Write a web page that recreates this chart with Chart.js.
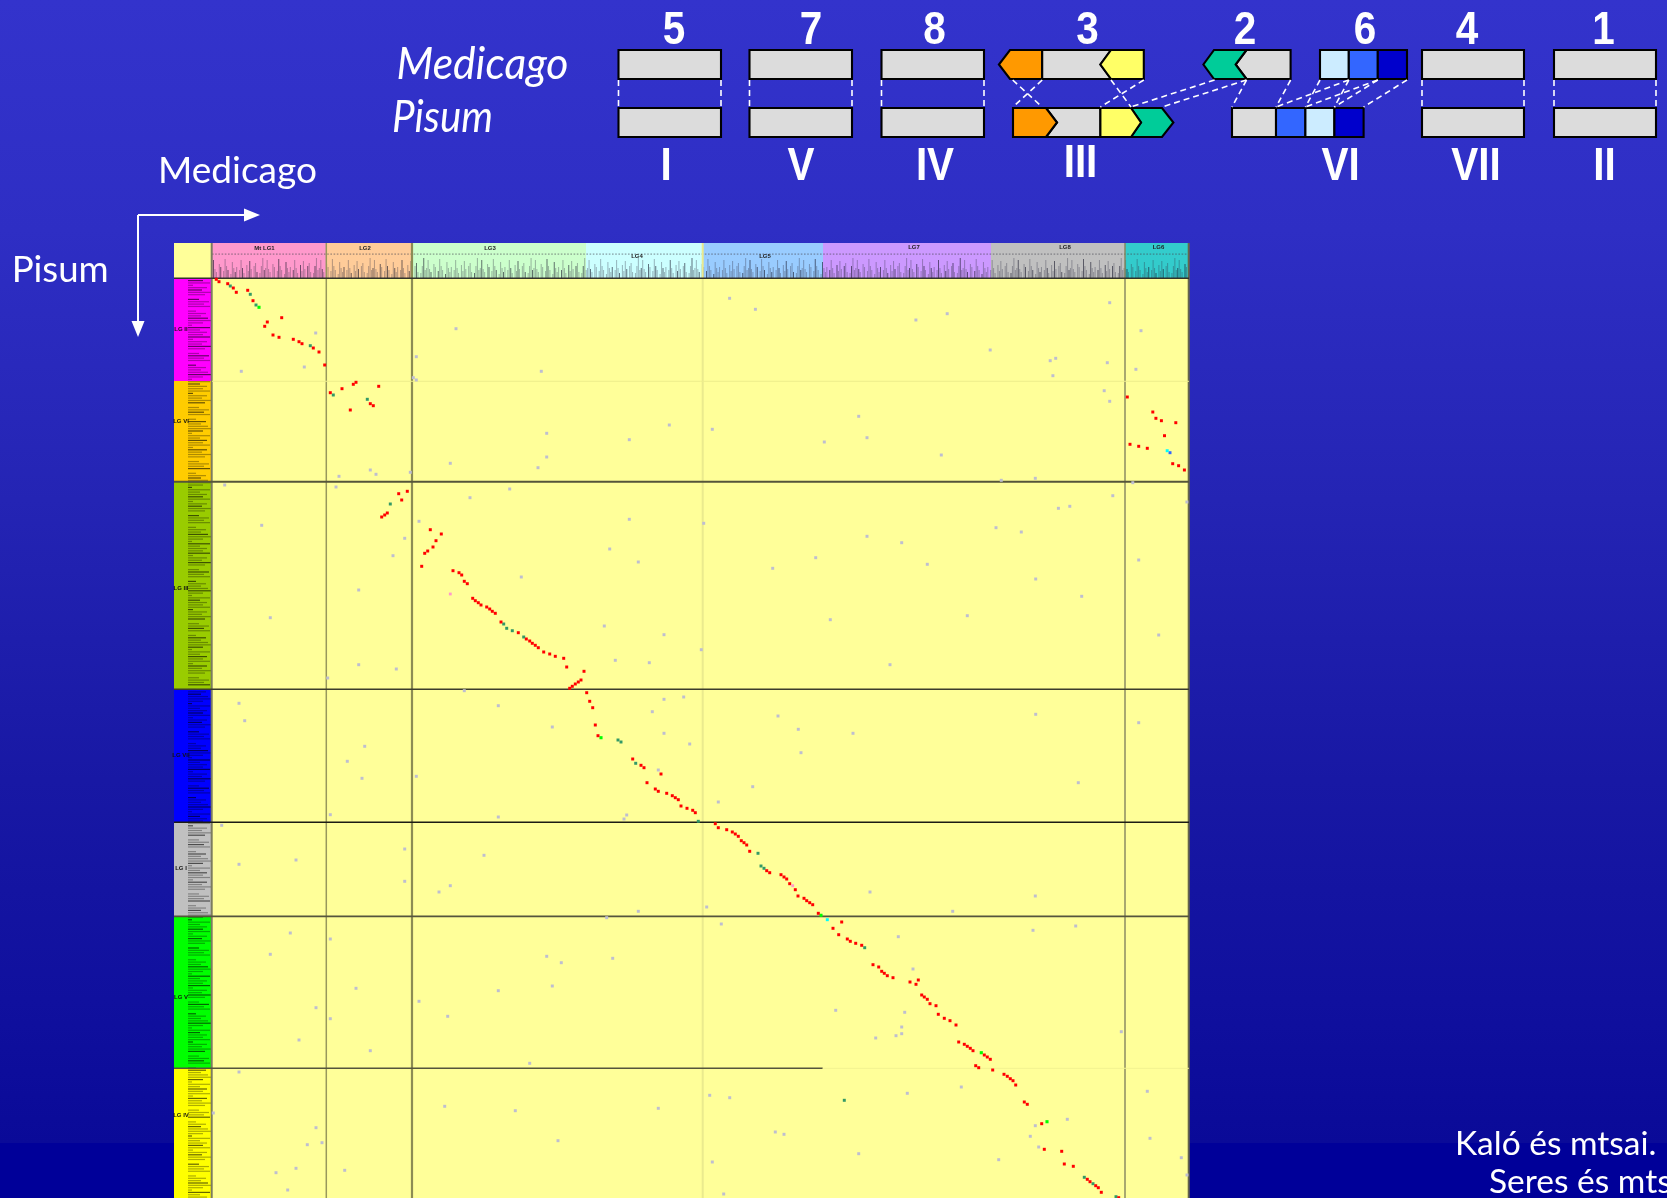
<!DOCTYPE html>
<html><head><meta charset="utf-8">
<style>html,body{margin:0;padding:0;background:#000099;overflow:hidden}canvas{display:block}</style>
<script src="https://cdn.jsdelivr.net/npm/chart.js@4"></script>
</head><body><canvas id="c" width="1667" height="1198"></canvas>
<script>
// Shared synteny markers, Medicago position (x) against Pisum position (y)
const redMarkers = [[216.3,279.3],[219,281.7],[227.7,283.7],[233.3,288],[236.3,292.3],[247.7,290.3],[253,300.7],[281.7,317.7],[267.3,322],[264.7,326.3],[273,335],[279,337.3],[293.3,339.3],[299,341.7],[302,343.7],[313.3,348],[319,352],[324.7,365],[330.3,392.7],[342,388.7],[353.3,384.3],[356,382.3],[378.7,386.3],[370.3,403.7],[373.3,405.7],[350.3,410],[407.3,491.3],[398.7,493.7],[401.7,500],
[1127.3,397],[1152.8,412],[1155.9,418.3],[1161.4,420.7],[1175.8,422.7],[1164.5,435.7],[1130,444.3],[1138.7,446.3],[1147.3,448.3],[1172.7,463.7],[1178.6,465.7],[1184.4,470],
[387.3,513],[384.7,515],[381.7,517],[430.3,529.7],[441.3,534],[436,540.7],[433,547],[427.7,551],[424.7,553.3],[421.7,566.3],[453,570.7],[459,572.7],[461.7,575],[464.3,581.3],[467.3,583.7],[472.7,598.3],[475.3,600.7],[478.3,602.7],[481,605],[486.7,607],[489.7,609],[492.3,611.3],[495.3,613.3],[501,622],[518.3,632.7],[526.3,639],[529.7,641],[532.3,643.3],[535.3,645.3],[538.3,647.7],[543.7,652],[549.7,654],[555.3,656.3],[563.7,658.3],[566.7,667],[584,671.3],[581,680],[578.3,682],[575.3,684],[572.3,686.3],[569.7,688.3],[586.7,692.7],[589.7,701.3],[592.7,707.7],[595.3,725],[598,735.7],[632.7,759],[641,765.3],[644,767.7],[661,774],[647,782.7],[655.3,789],[658.3,791.3],[666.7,793.3],[672.3,795.7],[675.3,797.7],[678.3,799.7],[681,806],[687,808.3],[692.7,810.3],[695.3,812.7],[715.3,823.7],[718.3,827.7],[726.7,829.7],
[732.3,832],[735.3,834],[738.3,836.3],[741.3,840.7],[744,842.7],[746.7,845],[749.7,851.3],[766.7,870.7],[769.7,872.7],[781,874.7],[784,877],[786.7,879],[789.7,883.7],[795.3,889.7],[798,896],[804,898.3],[806.7,900.7],[809.7,902.7],[812.7,904.7],[818.3,913.3],[841.7,922],[833,928.3],[838.7,934.7],[847.3,939],[850.3,941.3],[855.7,943.3],[861.7,945.3],[873,964.7],[878.7,967],[881.7,971.3],[884.3,973.3],[887.3,975.7],[893,977.7],[910,982],[918.3,980],[916,984.3],[921.7,995],[924.3,997],[927.3,999.3],[930,1003.7],[936,1005.7],[938.3,1014.3],[944.3,1018.3],[950,1020.7],[956,1025],[958.7,1042],[964.3,1044.3],[967.3,1046.3],[970.3,1048.3],[973,1050.7],[984.3,1055],[987.3,1057],[990.3,1059.3],[975.7,1065.7],[978.7,1067.7],[992.7,1070],[1004,1074.3],[1007.3,1076.3],[1010.3,1078.7],[1013,1080.7],[1015.7,1085],[1024.3,1102],[1027.3,1104.3],[1041.7,1123.7],[1044.3,1149.3],[1061.7,1151.3],[1064.3,1164],[1073.3,1166.3],[1087.3,1179.3],[1090,1181.7],[1095.7,1185.7],[1098.3,1187.7],[1101.3,1192.3],[1118.7,1197.7]];
const darkGreenMarkers = [[230.3,286],[250.3,294.3],[256,305],[310.3,345.7],[333.3,395],[367.3,399.3],[390.3,504],[503.7,624],[506.7,628.3],[512.3,630.7],[523.7,637],[618,740],[621,742],[635.7,763.3],[698.3,821.3],[758,853.3],[761,866],[764,868.3],[864.7,947.7],[844.3,1100.3],[1084.3,1177.3],[1093,1183.7],[1116,1196.7]];
const brightGreenMarkers = [[259,307.3],[601,737.7],[821,915.3],[981.3,1052.7],[1047,1121.7]];
const cyanMarkers = [[1167.2,450.7],[827.3,919.7]];
const blueMarkers = [[1170,452.7]];
const pinkMarkers = [[450.3,594],[792.7,885.7]];
const greyMarkers = [[315.7,333],[456,328.7],[416.3,356.7],[304.3,367],[241.3,371.3],[541.3,371.3],[413.3,377.7],[416.3,380],[546.7,433.3],[629.3,439.7],[450.3,463.3],[546.7,457],[538,467.7],[370.3,470],[376,474.3],[410.3,472.3],[339,476.3],[224.7,485],[336,487],[509.7,489],[470,497.7],
[729.6,298.3],[755.4,309.3],[915.9,320],[947.2,313.7],[1109.7,302.7],[1141,330.7],[990.2,350],[1050.2,360.7],[1055.7,358.3],[1107.3,362.7],[1135.9,369.3],[1052.9,375.7],[1104.2,390.7],[1109.7,401.3],[858.7,416.3],[669.3,425],[712.3,429.3],[867,437.7],[824.3,442],[941.3,455],[1001.3,480.3],[1035.3,478.3],[1132.8,482.7],[1112.8,495.7],[1058.4,508.3],[1069.8,506.3],[1186.9,502],
[419,521.3],[404.7,538.3],[393,555.7],[629.3,519.3],[703.7,523.3],[609.7,549],[638.3,562],[772.7,568.3],[521.3,577],[604.3,626],[664,634.7],[701.3,649.7],[615.3,660.3],[649.3,662.7],[396.3,669],[464.3,690.7],[664,699.3],[683.7,697],[498.3,705.7],[652.3,711.7],[778,716],[552.3,727],[664,733.3],[689.7,744],[416.3,776.3],[658.3,770],[752.7,786.7],[718.3,802],[626.7,815],[624,819],[498.3,817],
[706.7,907],[721.3,924],[870,892],[1035.3,896],[952.7,911.3],[1033,930.3],[1075.7,926],[898.3,936.7],[913,969],[835.7,1010.3],[904.7,1012.3],[901.7,1027],[901.7,1033.7],[896,1035.7],[875.7,1038],[709.7,1095.3],[729.7,1097.7],[907.3,1093.3],[961.3,1087],[775.3,1132],[784,1134.3],[1067.3,1119.3],[1035.3,1125.7],[1030.3,1136.3],[1038.7,1147],[858.7,1153.7],[712.3,1162],[998.7,1159.7],[723.7,1194],
[1121.3,1031.7],[1147.3,1091.3],[1150,1138.3],[1181.3,1157.7],[1187,1175],
[996,527.7],[1021.3,532],[867,536.3],[901.7,542.7],[815.7,557.7],[927.3,564.3],[1138.7,560],[1035.7,579],[1081.7,596.3],[967.3,615.7],[830.3,619.7],[1158.7,635],[890,664.7],[1035.7,714.3],[1138.7,722.7],[798.3,729.3],[853,733.3],[801,752.7],[1078.3,782.7],
[261.7,525.3],[358.7,590],[270.3,617.7],[358.7,664.7],[327.7,678],[239,703.3],[244.7,720.7],[364.7,746.3],[347.3,761.3],[362,778.3],[330.3,814.7],[221.7,825.3],
[296,860],[239,864.3],[290.3,933],[330.3,939],[270.3,954.3],[356,988.3],[316,1007.7],[330.3,1018.7],[299,1040],[370.3,1050.7],[239,1072],[213.3,1113],[316,1127.7],[307.3,1144.7],[322,1142.7],[296,1168.3],[276,1172.7],[344.7,1170.3],[287.7,1190],
[404.7,849],[484,855.3],[404.7,881.3],[450.3,885.7],[439,892],[638.3,911.3],[606.7,917.7],[546.7,956.3],[561.3,962.7],[612.7,958.3],[552.3,986],[498.3,990.7],[419,1001.3],[447.7,1016.3],[529.7,1063.3],[444.7,1106.3],[515.3,1110.7],[658.3,1108.3],[558,1140.7]];

// Linkage groups and their extents along each axis
const medicagoGroups = ["Mt LG1","LG2","LG3","LG4","LG5","LG7","LG8","LG6"];
const medicagoEdges = [212,326,412,586,703,823,991,1125,1189];
const pisumGroups = ["LG II","LG VI","LG III","LG VII","LG I","LG V","LG IV"];
const pisumEdges = [279,381,482,689,822,916.5,1068,1198];
// Diagram labels
const medicagoNumbers = ["5","7","8","3","2","6","4","1"];
const pisumNumerals = ["I","V","IV","III","VI","VII","II"];

const toPoints = a => a.map(p => ({x:p[0], y:p[1]}));
const markerSet = (label, pts, color, r) => ({label, data:toPoints(pts), backgroundColor:color, borderWidth:0, pointStyle:'rect', pointRadius:r, pointHoverRadius:r, showLine:false, clip:false});

const GREY='#dcdcdc',ORG='#ff9900',YEL='#ffff66',TEAL='#00cc99',LBL='#ccecff',BLU='#3366ff',NVY='#0000cc';
const rect=(a,b,t,bt,f)=>({f,p:[[a,t],[b,t],[b,bt],[a,bt]]});
const T=50,TB=79,L=108,LB=137,TM=64.5,LM=122.5;
const blocks=[
 ...[[618.5,721],[749.5,852],[881.5,984],[1422,1524],[1554,1656]].flatMap(([a,b])=>[rect(a,b,T,TB,GREY),rect(a,b,L,LB,GREY)]),
 {f:ORG,p:[[1010,T],[1042.2,T],[1042.2,TB],[1010,TB],[998.9,TM]]},
 {f:GREY,p:[[1042.2,T],[1111,T],[1100.4,TM],[1111,TB],[1042.2,TB]]},
 {f:YEL,p:[[1111,T],[1143.8,T],[1143.8,TB],[1111,TB],[1100.4,TM]]},
 {f:GREY,p:[[1046,L],[1100.4,L],[1100.4,LB],[1046,LB],[1057,LM]]},
 {f:ORG,p:[[1013,L],[1046,L],[1057,LM],[1046,LB],[1013,LB]]},
 {f:TEAL,p:[[1131,L],[1162,L],[1173.4,LM],[1162,LB],[1131,LB],[1141,LM]]},
 {f:YEL,p:[[1100.4,L],[1131,L],[1141,LM],[1131,LB],[1100.4,LB]]},
 {f:GREY,p:[[1246.5,T],[1290.6,T],[1290.6,TB],[1246.5,TB],[1235.6,TM]]},
 {f:TEAL,p:[[1214,T],[1246.5,T],[1235.6,TM],[1246.5,TB],[1214,TB],[1203.4,TM]]},
 rect(1320,1348.8,T,TB,LBL),rect(1348.8,1377.8,T,TB,BLU),rect(1377.8,1407,T,TB,NVY),
 rect(1232,1276,L,LB,GREY),rect(1276,1305.4,L,LB,BLU),rect(1305.4,1334.4,L,LB,LBL),rect(1334.4,1363.6,L,LB,NVY)
];
const dashes=[
 ...[618.5,721,749.5,852,881.5,984,1422,1524,1554,1656].map(x=>[x,x]),
 [1012.7,1042.2],[1042.2,1013],[1111,1131],[1143.8,1100.4],[1214.6,1130.7],[1246.5,1162],[1290.6,1276],[1246.5,1232],
 [1320,1305.4],[1348.8,1334.4],[1348.8,1276],[1377.8,1305.4],[1377.8,1334.4],[1407,1363.6]
];
const digitX=[674,811,934.5,1087.5,1245,1365,1467,1603.5];
const romanX=[666,801,935,1080.5,1340.5,1476,1604.5];
const romanB=[180,180,180,177,180,180,180];
const headColors=['#ff99cc','#ffcc99','#ccffcc','#ccffff','#99ccff','#cc99ff','#c0c0c0','#33cccc'];
const headLabelX=[264.5,365,490,637,765,914,1065,1158.5];
const headLabelY=[248,248,248,256,256,247,247,247];
const sideColors=['#ff00ff','#ffcc00','#99cc00','#0000ff','#c0c0c0','#00ff00','#ffff00'];
const sideLabelY=[329,420.5,588,755,868,997,1115];
// Illegible microprint of marker names along both axes, drawn as a fixed texture
const tickPattern=[18,9,6,0,14,11,0,7,19,12,8,0,4,16,10,6,11,0,8,18,10,5,0,13,7,17,9,0,12,15,6,0,5,12,20,8,10];
const rowPattern=[15,22,5,19,14,23,17,0,11,21,16,22,0,8,18,13,20,23,15,4,22,12,19];

const decor={id:'decor',
 beforeDraw(ch){
  const c=ch.ctx,X=v=>ch.scales.x.getPixelForValue(v),Y=v=>ch.scales.y.getPixelForValue(v);
  const font=(s,x,y,f,col,w,al)=>{c.font=f;c.fillStyle=col;c.textAlign=al||'left';c.textBaseline='alphabetic';
    if(w)c.fillText(s,X(x),Y(y),w);else c.fillText(s,X(x),Y(y));};
  c.save();
  // page background
  const g=c.createLinearGradient(0,0,0,1198);
  g.addColorStop(0,'#3333cc');g.addColorStop(230/1198,'#2e2ec4');g.addColorStop(500/1198,'#2424b4');
  g.addColorStop(780/1198,'#1818a4');g.addColorStop(1000/1198,'#10109e');g.addColorStop(1143/1198,'#0a0a98');
  g.addColorStop(1143.01/1198,'#000099');g.addColorStop(1,'#000099');
  c.fillStyle=g;c.fillRect(0,0,1667,1198);
  // plot field
  c.fillStyle='#ffff99';c.fillRect(X(174),Y(243),X(1189)-X(174),Y(1198)-Y(243));
  // header strips
  headColors.forEach((col,i)=>{c.fillStyle=col;c.fillRect(X(medicagoEdges[i]),Y(243),X(medicagoEdges[i+1])-X(medicagoEdges[i]),35);});
  // side strips
  sideColors.forEach((col,i)=>{c.fillStyle=col;c.fillRect(X(174),Y(pisumEdges[i]),38,Y(pisumEdges[i+1])-Y(pisumEdges[i]));});
  // header microprint
  c.fillStyle='rgba(70,70,80,.55)';
  for(let x=212;x<1189;x+=3.2){c.fillRect(X(x),Y(253.5),1.6,1.2);}
  let k=0;
  for(let x=213;x<1188;x+=1.45,k++){const h=tickPattern[k%tickPattern.length];if(!h)continue;
    c.fillStyle=k%5==0?'rgba(20,20,40,.6)':'rgba(50,50,70,.36)';c.fillRect(X(x),Y(278-h),1,h);}
  // side microprint
  k=0;
  for(let y=280;y<1198;y+=2.35,k++){const w=rowPattern[k%rowPattern.length];if(!w)continue;
    c.fillStyle=k%4==0?'rgba(0,0,0,.6)':'rgba(0,0,0,.32)';c.fillRect(X(188),Y(y),w,1.2);}
  // group labels
  medicagoGroups.forEach((s,i)=>font(s,headLabelX[i],headLabelY[i]+2,'bold 6px "Liberation Sans"','#222','', 'center'));
  pisumGroups.forEach((s,i)=>font(s,181,sideLabelY[i]+2,'bold 6px "Liberation Sans"','#111','', 'center'));
  // grid
  const hl=(y,a,b,col,w)=>{c.strokeStyle=col;c.lineWidth=w;c.beginPath();c.moveTo(X(a),Y(y));c.lineTo(X(b),Y(y));c.stroke();};
  const vl=(x,col,w)=>{c.strokeStyle=col;c.lineWidth=w;c.beginPath();c.moveTo(X(x),Y(243));c.lineTo(X(x),Y(1198));c.stroke();};
  vl(211.7,'#7c7c60',2);vl(326.3,'#98985c',1.5);vl(412,'#8c8c54',2.2);vl(702.7,'#eaea8e',2);vl(1125,'#84845e',1.4);vl(1188.7,'#66664a',2);
  hl(278.3,174,1189,'#33332a',1.4);
  hl(381.3,212,1189,'#eeee8c',1);hl(481.7,174,1189,'#55553a',2);hl(689.3,174,1189,'#3c3c2c',1.6);
  hl(822.3,174,1189,'#1c1c14',1.4);hl(916.4,174,1189,'#55553c',1.6);
  hl(1068.3,174,822.7,'#55553c',1.6);hl(1068.3,822.7,1189,'#f2f290',1);
  // synteny diagram
  c.lineJoin='miter';
  blocks.forEach(b=>{c.beginPath();b.p.forEach((q,i)=>i?c.lineTo(X(q[0]),Y(q[1])):c.moveTo(X(q[0]),Y(q[1])));c.closePath();
    c.fillStyle=b.f;c.fill();c.strokeStyle='#000';c.lineWidth=2.1;c.stroke();});
  c.strokeStyle='#fff';c.lineWidth=1.6;c.setLineDash([6,4]);
  dashes.forEach(d=>{c.beginPath();c.moveTo(X(d[0]),Y(80));c.lineTo(X(d[1]),Y(107));c.stroke();});
  c.setLineDash([]);
  const big='bold 46px "Liberation Sans"';
  medicagoNumbers.forEach((s,i)=>{c.font=big;const w=c.measureText(s).width*.88;font(s,digitX[i],44,big,'#fff',w,'center');});
  pisumNumerals.forEach((s,i)=>{c.font=big;const w=c.measureText(s).width*.88;font(s,romanX[i],romanB[i],big,'#fff',w,'center');});
  font('Medicago',396.5,79,'italic 44px Lato','#fff',172);
  font('Pisum',392,132,'italic 44px Lato','#fff',101);
  font('Medicago',158,183,'37px Lato','#fff',164);
  font('Pisum',11.7,282,'37px Lato','#fff',97);
  font('Kaló és mtsai.',1455,1155,'33.5px Lato','#fff');
  font('Seres és mtsai.',1489,1192.7,'33.5px Lato','#fff');
  // axis arrows
  c.strokeStyle='#fff';c.fillStyle='#fff';c.lineWidth=2;
  c.beginPath();c.moveTo(X(138),Y(215));c.lineTo(X(248),Y(215));c.moveTo(X(138),Y(215));c.lineTo(X(138),Y(325));c.stroke();
  c.beginPath();c.moveTo(X(260),Y(215));c.lineTo(X(244),Y(208.5));c.lineTo(X(244),Y(221.5));c.closePath();c.fill();
  c.beginPath();c.moveTo(X(138),Y(337));c.lineTo(X(131.5),Y(321));c.lineTo(X(144.5),Y(321));c.closePath();c.fill();
  c.restore();
 }};

new Chart(document.getElementById('c'),{
 type:'scatter',
 data:{datasets:[
  markerSet('Unlinked',greyMarkers,'#bebed0',2.1),
  markerSet('Pink',pinkMarkers,'#ff99cc',2),
  markerSet('Red',redMarkers,'#ff0000',2.1),
  markerSet('Dark green',darkGreenMarkers,'#339966',2.1),
  markerSet('Bright green',brightGreenMarkers,'#00ff00',2.2),
  markerSet('Cyan',cyanMarkers,'#00ffff',2.1),
  markerSet('Blue',blueMarkers,'#3366ff',2.1)
 ]},
 options:{responsive:false,animation:false,devicePixelRatio:1,
  layout:{padding:0,autoPadding:false},
  plugins:{legend:{display:false},tooltip:{enabled:false},title:{display:false}},
  scales:{
   x:{type:'linear',display:false,min:0,max:1667},
   y:{type:'linear',display:false,min:0,max:1198,reverse:true}
  }},
 plugins:[decor]
});
</script></body></html>
